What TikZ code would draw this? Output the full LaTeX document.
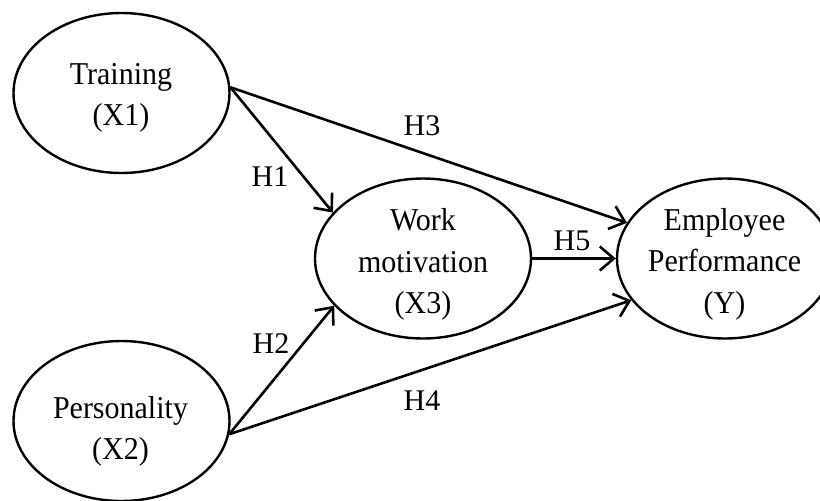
\documentclass[tikz,border=0pt]{standalone}
\usepackage{fontspec}
\usepackage{graphicx}
\setmainfont{Liberation Serif}
\usetikzlibrary{arrows.meta,shapes.geometric}
\newcommand\vstretch[1]{\scalebox{1}[1.06]{\begin{tabular}{@{}c@{}}#1\end{tabular}}}
\tikzset{
  oval/.style={draw, ellipse, line width=2.4pt, minimum width=216pt, minimum height=160pt, inner sep=0pt},
  lbl/.style={align=center, inner sep=0pt, font=\fontsize{30}{39}\selectfont},
  hyp/.style={inner sep=0pt, font=\fontsize{30}{36}\selectfont},
  conn/.style={line width=2.6pt, -{Straight Barb[length=14pt,width=24pt,line width=2.6pt]}}
}
\begin{document}
\begin{tikzpicture}[x=1pt,y=-1pt]
\useasboundingbox (0,0) rectangle (820,501);
\node[oval] (t) at (121.5,93) {};
\node[oval] (p) at (121.5,421) {};
\node[oval] (w) at (423,258.5) {};
\node[oval] (e) at (725,258.5) {};
\node[lbl] (tl) at (121,96.5) {\vstretch{Training\\(X1)}};
\node[lbl] (pl) at (120.5,431) {\vstretch{Personality\\(X2)}};
\node[lbl] (wl) at (423,264) {\vstretch{Work\\motivation\\(X3)}};
\node[lbl] (el) at (724.5,263.5) {\vstretch{Employee\\Performance\\(Y)}};
\draw[conn] (t.3) -- (w.153.4);
\draw[conn] (t.3) -- (e.160.3);
\draw[conn] (p.-7.5) -- (w.208.6);
\draw[conn] (p.-7.5) -- (e.204.2);
\draw[conn] (w.east) -- (e.west);
\node[hyp] (h1) at (270,177) {H1};
\node[hyp] (h2) at (271,344) {H2};
\node[hyp] (h3) at (422,125.5) {H3};
\node[hyp] (h4) at (422,401) {H4};
\node[hyp] (h5) at (572,241) {H5};
\end{tikzpicture}
\end{document}
